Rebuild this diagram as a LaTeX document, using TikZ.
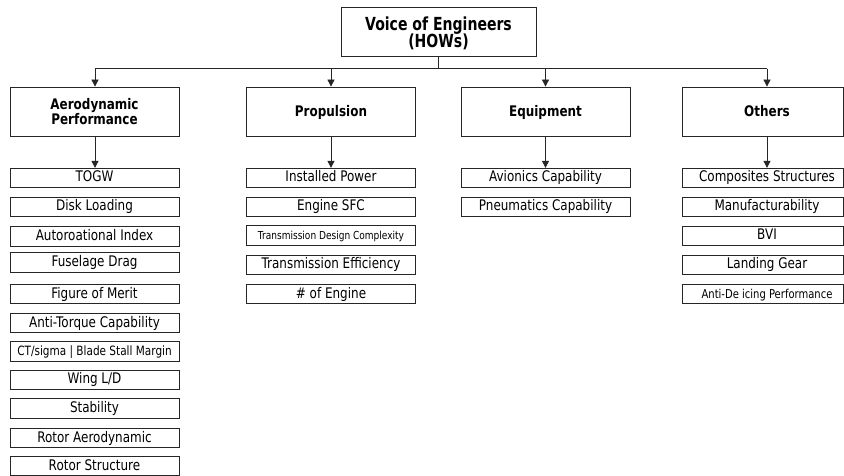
\documentclass[tikz,border=0pt]{standalone}
\usepackage{fontspec}
\setmainfont{DejaVu Sans}[FakeStretch=0.82]
\newfontfamily\headfont{DejaVu Sans}[FakeStretch=0.78]
\usetikzlibrary{arrows.meta}

\begin{document}
\begin{tikzpicture}[x=1pt, y=-1pt,
  frame/.style={draw=black!85, line width=0.75pt, rectangle, inner sep=0pt, align=center},
  headbox/.style={frame, minimum width=195pt, minimum height=49pt,
    font=\headfont\bfseries\fontsize{18}{17.7}\selectfont},
  groupbox/.style={frame, minimum width=169pt, minimum height=49pt,
    font=\bfseries\fontsize{14.6}{14.8}\selectfont},
  oneline/.style={text height=12.5pt, text depth=2pt},
  itembox/.style={frame, minimum width=169pt, minimum height=19.5pt,
    text height=11pt, text depth=3pt,
    font=\fontsize{14.6}{16}\selectfont},
  edgebox/.style={minimum width=161pt},
  small/.style={font=\fontsize{12.8}{14}\selectfont},
  smaller/.style={font=\fontsize{12.2}{14}\selectfont},
  tiny/.style={font=\fontsize{11}{12}\selectfont},
  wire/.style={draw=black!85, line width=0.75pt},
  arr/.style={wire, -{Triangle[length=7pt, width=7pt]}}
]
\useasboundingbox (0,0) rectangle (844,476);
\clip (0,0) rectangle (844,476);

% top level
\node[headbox] (top) at (438.5,31.5) {\rule{0pt}{17.5pt}Voice of Engineers\\(HOWs)};

% categories
\node[groupbox] (aero) at (94.5,111.5) {Aerodynamic\\Performance};
\node[groupbox, oneline] (prop) at (331,111.5) {Propulsion};
\node[groupbox, oneline] (equip) at (545.5,111.5) {Equipment};
\node[groupbox, oneline, edgebox] (oth) at (763,111.5) {\hspace*{8pt}Others};

% aerodynamic performance items
\node[itembox] (a1) at (94.5,178) {TOGW};
\node[itembox] (a2) at (94.5,207) {Disk Loading};
\node[itembox] (a3) at (94.5,236.25) {Autoroational Index};
\node[itembox] (a4) at (94.5,262.5) {Fuselage Drag};
\node[itembox] (a5) at (94.5,294) {Figure of Merit};
\node[itembox] (a6) at (94.5,323) {Anti-Torque Capability};
\node[itembox, small] (a7) at (94.5,351.5) {CT/sigma | Blade Stall Margin};
\node[itembox] (a8) at (94.5,379.75) {Wing L/D};
\node[itembox] (a9) at (94.5,408.5) {Stability};
\node[itembox] (a10) at (94.5,438) {Rotor Aerodynamic};
\node[itembox] (a11) at (94.5,466) {Rotor Structure};

% propulsion items
\node[itembox] (p1) at (331,178) {Installed Power};
\node[itembox] (p2) at (331,207) {Engine SFC};
\node[itembox, tiny] (p3) at (331,235.5) {Transmission Design Complexity};
\node[itembox] (p4) at (331,264.75) {Transmission Efficiency};
\node[itembox] (p5) at (331,294) {\# of Engine};

% equipment items
\node[itembox] (e1) at (545.5,178) {Avionics Capability};
\node[itembox] (e2) at (545.5,207) {Pneumatics Capability};

% other items
\node[itembox, edgebox] (o1) at (763,178) {\hspace*{8pt}Composites Structures};
\node[itembox, edgebox] (o2) at (763,207) {\hspace*{8pt}Manufacturability};
\node[itembox, edgebox] (o3) at (763,236) {\hspace*{8pt}BVI};
\node[itembox, edgebox] (o4) at (763,264.75) {\hspace*{8pt}Landing Gear};
\node[itembox, edgebox, smaller] (o5) at (763,294) {\hspace*{8pt}Anti-De icing Performance};

% distribution bus
\coordinate (busL) at (95,68.7);
\coordinate (busR) at (767,68.7);
\path[wire] (top.south) -- (top.south |- busL);
\path[wire] (busL) -- (busR);
\path[arr] (busL) -- (busL |- aero.north);
\path[arr] (prop.north |- busL) -- (prop.north);
\path[arr] (equip.north |- busL) -- (equip.north);
\path[arr] (busR) -- (busR |- oth.north);

% category to first item
\path[arr] (aero.south -| busL) -- (a1.north -| busL);
\path[arr] (prop.south) -- (p1.north);
\path[arr] (equip.south) -- (e1.north);
\path[arr] (oth.south -| busR) -- (o1.north -| busR);
\end{tikzpicture}
\end{document}
